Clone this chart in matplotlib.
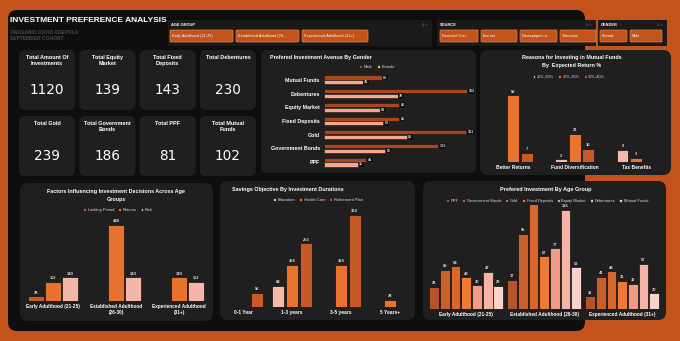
import matplotlib.pyplot as plt
from matplotlib.patches import FancyBboxPatch
import numpy as np

plt.rcParams['font.family'] = ['Liberation Sans', 'DejaVu Sans']

# ---- data ----
avenues = ['Mutual Funds', 'Debentures', 'Equity Market', 'Fixed Deposits', 'Gold', 'Government Bonds', 'PPF']
male = [61, 152, 80, 80, 151, 121, 45]
female = [41, 78, 59, 63, 88, 65, 36]

reasons = ['Better Returns', 'Fund Diversification', 'Tax Benefits']
ret_10_20 = [0, 2, 9]
ret_20_30 = [50, 21, 3]
ret_30_40 = [7, 10, 0]

age_groups_wrapped = ['Early Adulthood (21-25)', 'Established Adulthood\n(26-30)', 'Experienced Adulthood\n(31+)']
locking_period = [28, 0, 0]
returns = [112, 448, 140]
risk = [140, 140, 112]

durations = ['0-1 Year', '1-3 years', '3-5 years', '5 Years+']
education = [0, 84, 0, 0]
health_care = [0, 168, 168, 28]
retirement_plan = [56, 252, 364, 0]

age_groups = ['Early Adulthood (21-25)', 'Established Adulthood (26-30)', 'Experienced Adulthood (31+)']
age_series = ['PPF', 'Government Bonds', 'Gold', 'Fixed Deposits', 'Equity Market', 'Debentures', 'Mutual Funds']
age_ppf = [28, 37, 16]
age_gov_bonds = [50, 95, 41]
age_gold = [54, 137, 48]
age_fixed = [40, 67, 36]
age_equity = [30, 77, 32]
age_debentures = [47, 126, 57]
age_mutual = [29, 53, 20]

# ---- colours ----
BG = '#C2531B'
DARK = '#0E0E0E'
PANEL = '#1F1F1F'
TXT = '#FFFFFF'
LBL = '#DDDDDD'

W, H = 680, 341
fig = plt.figure(figsize=(6.8, 3.41), dpi=100, facecolor=BG)
bg = fig.add_axes([0, 0, 1, 1])
bg.set_xlim(0, W)
bg.set_ylim(H, 0)
bg.axis('off')


def box(x0, y0, x1, y1, color, r=6, ec='none', lw=0):
    bg.add_patch(FancyBboxPatch((x0 + r, y0 + r), x1 - x0 - 2 * r, y1 - y0 - 2 * r,
                                boxstyle=f'round,pad={r}', fc=color, ec=ec, lw=lw))


def px_axes(x0, y0, x1, y1):
    ax = fig.add_axes([x0 / W, 1 - y1 / H, (x1 - x0) / W, (y1 - y0) / H])
    ax.set_facecolor('none')
    for s in ax.spines.values():
        s.set_visible(False)
    return ax


def add_bars(ax, x, vals, width, color):
    x = np.asarray(x, dtype=float)
    vals = np.asarray(vals)
    m = vals > 0
    bars = ax.bar(x[m], vals[m], width, color=color, edgecolor='#111111', linewidth=0.5)
    ax.bar_label(bars, labels=[str(v) for v in vals[m]], fontsize=2.9, color=LBL,
                 padding=1.2, fontweight='bold')
    return bars


def legend(ax, labels, cx, cy, ncol):
    ax.legend(labels, loc='center', bbox_to_anchor=(cx / W, 1 - cy / H), bbox_transform=fig.transFigure,
              ncol=ncol, fontsize=2.9, frameon=False, handlelength=0.7, handleheight=0.7, labelcolor=LBL,
              columnspacing=1.0, handletextpad=0.4, borderpad=0)


# main dark panel
box(8, 10, 585, 331, DARK, r=9)

# header
bg.text(10, 21, 'INVESTMENT PREFERENCE ANALYSIS', color=TXT, fontsize=6.0, fontweight='bold', va='center')
bg.text(10, 32, 'ONASANIO DAVID ADEPOLA', color='#4A4A4A', fontsize=3.5, fontweight='bold', va='center')
bg.text(10, 39, 'SEPTEMBER COHORT', color='#4A4A4A', fontsize=3.5, fontweight='bold', va='center')

# slicers
def slicer(x0, x1, title, items, bx):
    box(x0, 20, x1, 46, '#1A1A1A', r=1)
    bg.text(x0 + 3, 25, title, color=TXT, fontsize=2.9, fontweight='bold', va='center')
    bg.text(x1 - 4, 25, '\u2261 \u00d7', color='#777777', fontsize=2.8, va='center', ha='right')
    for (a, b), lab in zip(bx, items):
        box(a, 30, b, 42, BG, r=1, ec='#E8844A', lw=0.5)
        bg.text(a + 2, 36, lab, color=TXT, fontsize=2.8, va='center')

slicer(168, 432, 'AGE GROUP', ['Early Adulthood (21-25)', 'Established Adulthood (26-...', 'Experienced Adulthood (31+)'],
       [(170, 233), (236, 299), (302, 368)])
slicer(437, 596, 'SOURCE', ['Financial Con...', 'Internet', 'Newspapers a...', 'Television'],
       [(440, 478), (481, 517), (520, 557), (560, 596)])
slicer(598, 667, 'GENDER', ['Female', 'Male'], [(600, 627), (630, 662)])

# KPI cards
kpi_titles = ['Total Amount Of\nInvestments', 'Total Equity\nMarket', 'Total Fixed\nDeposits', 'Total Debentures',
              'Total Gold', 'Total Government\nBonds', 'Total PPF', 'Total Mutual\nFunds']
tot = {a: m + f for a, m, f in zip(avenues, male, female)}
kpi_values = [sum(tot.values()), tot['Equity Market'], tot['Fixed Deposits'], tot['Debentures'],
              tot['Gold'], tot['Government Bonds'], tot['PPF'], tot['Mutual Funds']]
for i, (t, v) in enumerate(zip(kpi_titles, kpi_values)):
    r, c = divmod(i, 4)
    x0 = 19 + c * 60.3
    y0 = 50 + r * 66
    box(x0, y0, x0 + 56, y0 + 60, PANEL, r=6)
    bg.text(x0 + 28, y0 + 5, t, color=TXT, fontsize=4.0, fontweight='bold', ha='center', va='top',
            linespacing=1.3)
    bg.text(x0 + 28, y0 + 40, str(v), color=TXT, fontsize=9.8, ha='center', va='center',
            family='DejaVu Sans')

# ---- Gender chart ----
box(261, 50, 476, 173, PANEL, r=7)
bg.text(270, 58, 'Prefered Investment Avenue By Gender', color=TXT, fontsize=3.9, fontweight='bold', va='center')
ax = px_axes(324, 73, 472, 169)
y = np.arange(len(avenues))
h = 0.3
bm = ax.barh(y - 0.17, male, h, color='#A8461D', edgecolor='#111111', linewidth=0.4, label='Male')
bf = ax.barh(y + 0.17, female, h, color='#F5A68D', edgecolor='#111111', linewidth=0.4, label='Female')
for b in (bm, bf):
    ax.bar_label(b, fontsize=2.6, color=LBL, padding=1, fontweight='bold',
                 bbox=dict(fc='#111111', ec='none', pad=0.5))
ax.set_xlim(0, 157)
ax.set_ylim(6.5, -0.5)
ax.set_yticks(y, avenues, color=TXT, fontsize=3.8, fontweight='bold')
ax.set_xticks([])
ax.tick_params(length=0, pad=3)
legend(ax, ['Male', 'Female'], 377, 67, 2)

# ---- Reasons chart ----
box(480, 50, 671, 175, PANEL, r=8)
bg.text(572, 57, 'Reasons for Investing in Mutual Funds', color=TXT, fontsize=3.9, fontweight='bold',
        ha='center', va='center')
bg.text(572, 66, 'By  Expected Return %', color=TXT, fontsize=3.9, fontweight='bold', ha='center', va='center')
ax = px_axes(485, 82, 665, 162)
x = np.arange(len(reasons))
add_bars(ax, x - 0.22, ret_10_20, 0.19, '#F6B8A6')
add_bars(ax, x, ret_20_30, 0.19, '#EA7530')
add_bars(ax, x + 0.22, ret_30_40, 0.19, '#C65A28')
ax.set_xlim(-0.46, 2.47)
ax.set_ylim(0, 60)
ax.set_yticks([])
ax.set_xticks(x, reasons, color=TXT, fontsize=3.5, fontweight='bold')
ax.tick_params(length=0, pad=2)
legend(ax, ['10%-20%', '20%-30%', '30%-40%'], 569, 77, 3)

# ---- Factors chart ----
box(20, 183, 213, 321, PANEL, r=8)
bg.text(116, 192, 'Factors Influencing Investment Decisions Across Age', color=TXT, fontsize=3.9,
        fontweight='bold', ha='center', va='center')
bg.text(116, 200, 'Groups', color=TXT, fontsize=3.9, fontweight='bold', ha='center', va='center')
ax = px_axes(22, 218, 210, 301)
x = np.arange(3)
add_bars(ax, x - 0.27, locking_period, 0.25, '#C45A28')
add_bars(ax, x, returns, 0.25, '#E8712E')
add_bars(ax, x + 0.27, risk, 0.25, '#F4B6A6')
ax.set_xlim(-0.49, 2.49)
ax.set_ylim(0, 490)
ax.set_yticks([])
ax.set_xticks(x, age_groups_wrapped, color=TXT, fontsize=3.4, fontweight='bold', linespacing=1.3)
ax.tick_params(length=0, pad=2)
legend(ax, ['Locking Period', 'Returns', 'Risk'], 118, 210, 3)

# ---- Savings chart ----
box(220, 181, 415, 320, PANEL, r=8)
bg.text(232, 189, 'Savings Objective By Investment Durations', color=TXT, fontsize=3.9, fontweight='bold',
        va='center')
ax = px_axes(222, 210, 412, 307)
x = np.arange(len(durations))
add_bars(ax, x - 0.28, education, 0.24, '#F4B9A9')
add_bars(ax, x, health_care, 0.24, '#E8722E')
add_bars(ax, x + 0.28, retirement_plan, 0.24, '#C45A28')
ax.set_xlim(-0.43, 3.45)
ax.set_ylim(0, 384)
ax.set_yticks([])
ax.set_xticks(x, durations, color=TXT, fontsize=3.5, fontweight='bold')
ax.tick_params(length=0, pad=2.5)
legend(ax, ['Education', 'Health Care', 'Retirement Plan'], 318, 200, 3)

# ---- Age group chart ----
box(423, 181, 666, 320, PANEL, r=8)
bg.text(546, 189, 'Prefered Investment By Age Group', color=TXT, fontsize=4.0, fontweight='bold',
        ha='center', va='center')
ax = px_axes(425, 205, 665, 309)
x = np.arange(len(age_groups))
age_vals = [age_ppf, age_gov_bonds, age_gold, age_fixed, age_equity, age_debentures, age_mutual]
age_cols = ['#B5542A', '#C95F2C', '#D9662C', '#EF7A33', '#F29A83', '#F6B4A6', '#F9D3CB']
for k, (vals, col) in enumerate(zip(age_vals, age_cols)):
    add_bars(ax, x + (k - 3) * 0.137, vals, 0.125, col)
ax.set_xlim(-0.53, 2.55)
ax.set_ylim(0, 132)
ax.set_yticks([])
ax.set_xticks(x, age_groups, color=TXT, fontsize=3.4, fontweight='bold')
ax.tick_params(length=0, pad=2)
legend(ax, age_series, 547, 201, 7)

fig.savefig('out.png', dpi=100, facecolor=BG)
